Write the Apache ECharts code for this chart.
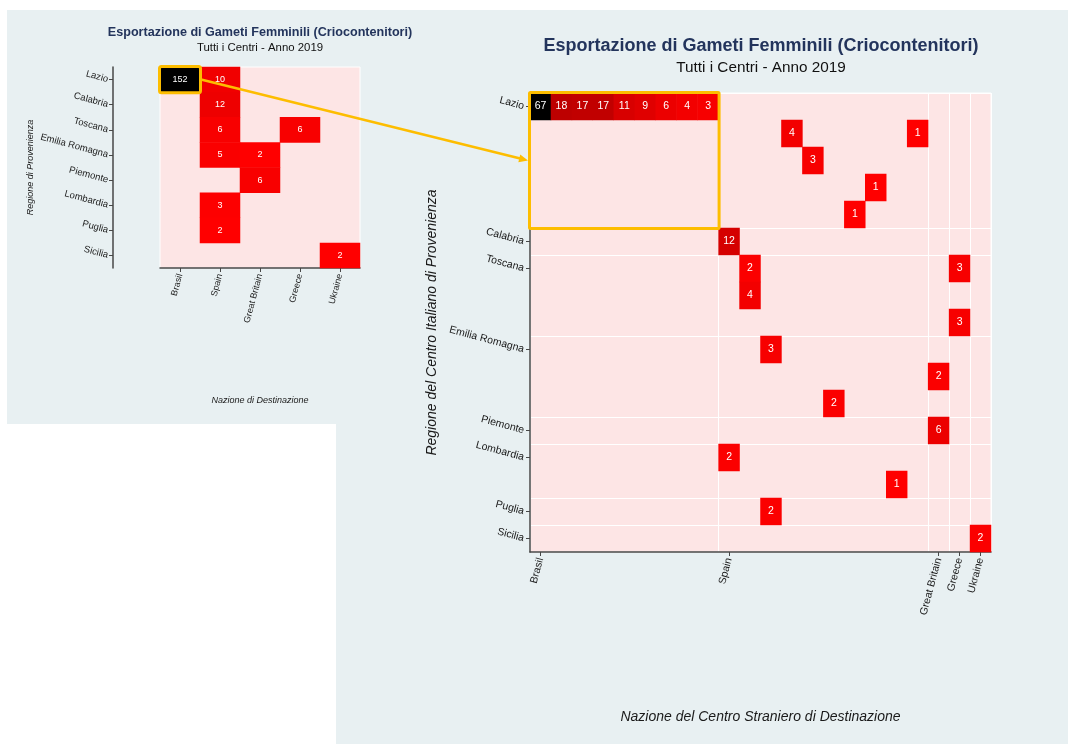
<!DOCTYPE html>
<html><head><meta charset="utf-8">
<script src="https://cdn.jsdelivr.net/npm/echarts@6/dist/echarts.min.js"></script>
<style>html,body{margin:0;padding:0;background:#fff}#c{width:1068px;height:744px}</style>
</head><body><div id="c"></div>
<script>
// ---------- DATA ----------
const titleText = 'Esportazione di Gameti Femminili (Criocontenitori)';
const subtitleText = 'Tutti i Centri - Anno 2019';
const nations = ['Brasil', 'Spain', 'Great Britain', 'Greece', 'Ukraine'];
const regions = ['Lazio', 'Calabria', 'Toscana', 'Emilia Romagna', 'Piemonte', 'Lombardia', 'Puglia', 'Sicilia'];
// summary: [nationIndex, regionIndex, value]
const summaryCells = [
  [0, 0, 152], [1, 0, 10], [1, 1, 12], [1, 2, 6], [3, 2, 6],
  [1, 3, 5], [2, 3, 2], [2, 4, 6], [1, 5, 3], [1, 6, 2], [4, 7, 2]
];
// number of foreign centres per nation and of Italian centres per region
const centresPerNation = [9, 10, 1, 1, 1];
const centresPerRegion = [5, 1, 3, 3, 1, 2, 1, 1];
// detail: [foreignCentreIndex, italianCentreIndex, value]
const detailCells = [
  [0, 0, 67], [1, 0, 18], [2, 0, 17], [3, 0, 17], [4, 0, 11], [5, 0, 9], [6, 0, 6], [7, 0, 4], [8, 0, 3],
  [12, 1, 4], [18, 1, 1],
  [13, 2, 3],
  [16, 3, 1],
  [15, 4, 1],
  [9, 5, 12],
  [10, 6, 2], [20, 6, 3],
  [10, 7, 4],
  [20, 8, 3],
  [11, 9, 3],
  [19, 10, 2],
  [14, 11, 2],
  [19, 12, 6],
  [9, 13, 2],
  [17, 14, 1],
  [11, 15, 2],
  [21, 16, 2]
];
const smallXName = 'Nazione di Destinazione';
const smallYName = 'Regione di Provenienza';
const bigXName = 'Nazione del Centro Straniero di Destinazione';
const bigYName = 'Regione del Centro Italiano di Provenienza';

// ---------- HELPERS ----------
function expand(names, counts) {
  const cats = [], starts = new Set();
  names.forEach((n, i) => {
    for (let k = 0; k < counts[i]; k++) {
      if (k === 0) starts.add(cats.length);
      cats.push(n + '#' + (k + 1));
    }
  });
  return { cats, starts };
}
const detX = expand(nations, centresPerNation);
const detY = expand(regions, centresPerRegion);
const FF = '"Liberation Sans", Arial, Helvetica, sans-serif';
const AX = '#474747';
const LBL = '#1a1a1a';
const PINK = '#fde5e5';
const PANEL = '#e8f0f2';
const YEL = '#fdbd00';
const vals = a => a.map(d => d[2]);

const chart = echarts.init(document.getElementById('c'), null, { renderer: 'canvas' });

const baseAxis = {
  axisLine: { show: true, lineStyle: { color: AX, width: 1.5 } },
  axisTick: { show: true, alignWithLabel: true, length: 4, lineStyle: { color: AX, width: 1 } },
  splitArea: { show: false }
};

const option = {
  backgroundColor: '#ffffff',
  animation: false,
  textStyle: { fontFamily: FF },
  title: [
    { text: titleText, left: 260, top: 26, textAlign: 'center', padding: 0,
      textStyle: { fontSize: 12.6, fontWeight: 'bold', color: '#23345c', fontFamily: FF } },
    { text: subtitleText, left: 260, top: 42, textAlign: 'center', padding: 0,
      textStyle: { fontSize: 11.4, fontWeight: 'normal', color: '#111', fontFamily: FF } },
    { text: titleText, left: 761, top: 37, textAlign: 'center', padding: 0,
      textStyle: { fontSize: 18, fontWeight: 'bold', color: '#23345c', fontFamily: FF } },
    { text: subtitleText, left: 761, top: 60, textAlign: 'center', padding: 0,
      textStyle: { fontSize: 15.3, fontWeight: 'normal', color: '#111', fontFamily: FF } }
  ],
  grid: [
    { left: 160, top: 67, width: 200, height: 201, show: true, backgroundColor: PINK,
      borderColor: '#fff', borderWidth: 1, outerBoundsMode: 'none', containLabel: false },
    { left: 530, top: 93, width: 461, height: 459, show: true, backgroundColor: PINK,
      borderColor: '#fff', borderWidth: 1, outerBoundsMode: 'none', containLabel: false }
  ],
  xAxis: [
    Object.assign({}, baseAxis, {
      type: 'category', gridIndex: 0, data: nations, position: 'bottom',
      axisLabel: { interval: 0, rotate: 75, fontSize: 9, color: LBL, margin: 6, fontFamily: FF },
      splitLine: { show: false },
      name: smallXName, nameLocation: 'middle', nameGap: 128,
      nameTextStyle: { fontStyle: 'italic', fontSize: 9, color: LBL, fontFamily: FF }
    }),
    Object.assign({}, baseAxis, {
      type: 'category', gridIndex: 1, data: detX.cats, position: 'bottom',
      axisTick: Object.assign({}, baseAxis.axisTick, { interval: i => detX.starts.has(i) }),
      axisLabel: { interval: i => detX.starts.has(i), rotate: 75, fontSize: 10.5, color: LBL, margin: 6,
        fontFamily: FF, formatter: v => v.split('#')[0] },
      splitLine: { show: true, interval: i => detX.starts.has(i), lineStyle: { color: '#ffffff', width: 1 } },
      name: bigXName, nameLocation: 'middle', nameGap: 158,
      nameTextStyle: { fontStyle: 'italic', fontSize: 14, color: LBL, fontFamily: FF }
    })
  ],
  yAxis: [
    Object.assign({}, baseAxis, {
      type: 'category', gridIndex: 0, data: regions, inverse: true, offset: 47,
      axisLabel: { interval: 0, rotate: -15, fontSize: 9.5, color: LBL, margin: 5, fontFamily: FF },
      splitLine: { show: false },
      name: smallYName, nameLocation: 'middle', nameGap: 78,
      nameTextStyle: { fontStyle: 'italic', fontSize: 9, color: LBL, fontFamily: FF }
    }),
    Object.assign({}, baseAxis, {
      type: 'category', gridIndex: 1, data: detY.cats, inverse: true,
      axisTick: Object.assign({}, baseAxis.axisTick, { interval: i => detY.starts.has(i) }),
      axisLabel: { interval: i => detY.starts.has(i), rotate: -15, fontSize: 10.5, color: LBL, margin: 6,
        fontFamily: FF, formatter: v => v.split('#')[0] },
      splitLine: { show: true, interval: i => detY.starts.has(i), lineStyle: { color: '#ffffff', width: 1 } },
      name: bigYName, nameLocation: 'middle', nameGap: 91,
      nameTextStyle: { fontStyle: 'italic', fontSize: 14, color: LBL, fontFamily: FF }
    })
  ],
  visualMap: [
    { type: 'continuous', show: false, seriesIndex: 0, dimension: 2,
      min: Math.min(...vals(summaryCells)), max: Math.max(...vals(summaryCells)),
      inRange: { color: ['#ff0000', '#000000'] } },
    { type: 'continuous', show: false, seriesIndex: 1, dimension: 2,
      min: Math.min(...vals(detailCells)), max: Math.max(...vals(detailCells)),
      inRange: { color: ['#ff0000', '#000000'] } }
  ],
  series: [
    { type: 'heatmap', xAxisIndex: 0, yAxisIndex: 0, data: summaryCells,
      label: { show: true, color: '#fff', fontSize: 9, fontFamily: FF },
      itemStyle: { borderWidth: 0 }, emphasis: { disabled: true } },
    { type: 'heatmap', xAxisIndex: 1, yAxisIndex: 1, data: detailCells,
      label: { show: true, color: '#fff', fontSize: 10.5, fontFamily: FF },
      itemStyle: { borderWidth: 0 }, emphasis: { disabled: true } }
  ]
};
chart.setOption(option);

// ---------- ANNOTATIONS (computed through the axes) ----------
function bandRect(g, x0, x1, y0, y1) {
  const f = { xAxisIndex: g, yAxisIndex: g };
  const a = chart.convertToPixel(f, [x0, y0]);
  const b = chart.convertToPixel(f, [x0 + 1, y0 + 1]);
  const c = chart.convertToPixel(f, [x1, y1]);
  const bw = Math.abs(b[0] - a[0]), bh = Math.abs(b[1] - a[1]);
  const left = Math.min(a[0], c[0]) - bw / 2, right = Math.max(a[0], c[0]) + bw / 2;
  const top = Math.min(a[1], c[1]) - bh / 2, bottom = Math.max(a[1], c[1]) + bh / 2;
  return { x: left, y: top, width: right - left, height: bottom - top };
}
const smallBox = bandRect(0, 0, 0, 0, 0);
const bigBox = bandRect(1, 0, centresPerNation[0] - 1, 0, centresPerRegion[0] - 1);
const s = [smallBox.x + smallBox.width + 1, smallBox.y + smallBox.height / 2];
const t = [bigBox.x - 2, bigBox.y + bigBox.height / 2];
const len = Math.hypot(t[0] - s[0], t[1] - s[1]);
const d = [(t[0] - s[0]) / len, (t[1] - s[1]) / len];
const n = [-d[1], d[0]];
const hl = 9, hw = 4;
const base = [t[0] - hl * d[0], t[1] - hl * d[1]];

const W = chart.getWidth(), H = chart.getHeight();
chart.setOption({
  graphic: [
    { type: 'rect', z: -100, silent: true, shape: { x: 7, y: 10, width: 329, height: 414 }, style: { fill: PANEL } },
    { type: 'rect', z: -100, silent: true, shape: { x: 336, y: 10, width: W - 336, height: H - 10 }, style: { fill: PANEL } },
    { type: 'rect', z: 100, silent: true,
      shape: { x: smallBox.x - 0.5, y: smallBox.y - 0.5, width: smallBox.width + 1, height: smallBox.height + 1, r: 2 },
      style: { fill: null, stroke: YEL, lineWidth: 3 } },
    { type: 'rect', z: 100, silent: true,
      shape: { x: bigBox.x - 0.5, y: bigBox.y - 0.5, width: bigBox.width + 1, height: bigBox.height + 1, r: 1 },
      style: { fill: null, stroke: YEL, lineWidth: 3 } },
    { type: 'line', z: 100, silent: true,
      shape: { x1: s[0], y1: s[1], x2: base[0] + d[0], y2: base[1] + d[1] },
      style: { stroke: YEL, lineWidth: 2.5 } },
    { type: 'polygon', z: 100, silent: true,
      shape: { points: [t, [base[0] + hw * n[0], base[1] + hw * n[1]], [base[0] - hw * n[0], base[1] - hw * n[1]]] },
      style: { fill: YEL } }
  ]
});
</script>
</body></html>
